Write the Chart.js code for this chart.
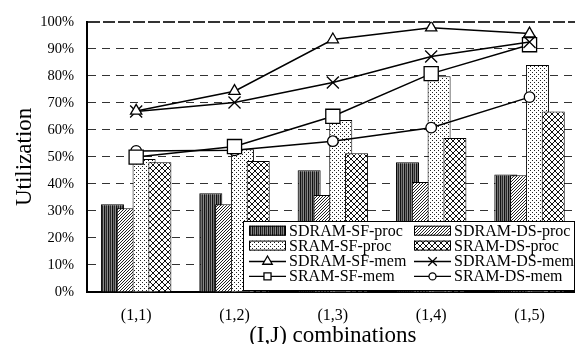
<!DOCTYPE html>
<html>
<head>
<meta charset="utf-8">
<script src="https://cdn.jsdelivr.net/npm/chart.js@4.4.1/dist/chart.umd.min.js"></script>
<style>
  html, body { margin: 0; padding: 0; overflow: hidden; background: #fff; }
  #wrap { width: 590px; height: 352px; }
</style>
</head>
<body>
<div id="wrap"><canvas id="chart" width="590" height="352"></canvas></div>
<script>
"use strict";

const CATEGORIES = ["(1,1)", "(1,2)", "(1,3)", "(1,4)", "(1,5)"];

// bars (%)
const SDRAM_SF_PROC = [32.5, 36.5, 45.0, 48.0, 43.5];
const SDRAM_DS_PROC = [31.0, 32.5, 35.9, 40.7, 43.2];
const SRAM_SF_PROC  = [49.2, 52.8, 63.6, 79.8, 84.0];
const SRAM_DS_PROC  = [48.0, 48.5, 51.3, 57.0, 66.8];

// lines (%)
const SDRAM_SF_MEM = [67.0, 74.3, 93.4, 97.8, 95.6];
const SDRAM_DS_MEM = [66.8, 70.1, 77.5, 87.1, 92.5];
const SRAM_SF_MEM  = [49.9, 53.8, 65.0, 80.8, 91.5];
const SRAM_DS_MEM  = [52.2, 52.4, 55.8, 60.8, 72.1];

const LEGEND_ROWS = [
  ["SDRAM-SF-proc", "SDRAM-DS-proc"],
  ["SRAM-SF-proc", "SRAM-DS-proc"],
  ["SDRAM-SF-mem", "SDRAM-DS-mem"],
  ["SRAM-SF-mem", "SRAM-DS-mem"],
];

const FONT = "'Liberation Serif', 'Times New Roman', serif";
const canvas = document.getElementById("chart");
const ctx2d = canvas.getContext("2d");

function makePattern(size, paint) {
  const c = document.createElement("canvas");
  c.width = size; c.height = size;
  const g = c.getContext("2d");
  g.fillStyle = "#fff";
  g.fillRect(0, 0, size, size);
  paint(g);
  return ctx2d.createPattern(c, "repeat");
}

const PAT_STRIPES = makePattern(4, g => {
  g.fillStyle = "#111"; g.fillRect(0, 0, 1, 4);
  g.fillStyle = "#707070"; g.fillRect(1, 0, 1, 4);
  g.fillStyle = "#2a2a2a"; g.fillRect(2, 0, 1, 4);
  g.fillStyle = "#8a8a8a"; g.fillRect(3, 0, 1, 4);
});
const PAT_HATCH = makePattern(3, g => {
  g.fillStyle = "#222";
  for (let i = 0; i < 3; i++) g.fillRect(i, 2 - i, 1, 1);
});
const PAT_DOTS = makePattern(4, g => {
  g.fillStyle = "#222";
  g.fillRect(0, 0, 1, 1);
  g.fillRect(2, 2, 1, 1);
});
const PAT_CROSS = makePattern(6, g => {
  g.strokeStyle = "#111";
  g.lineWidth = 1;
  g.beginPath();
  g.moveTo(0, 0); g.lineTo(6, 6);
  g.moveTo(6, 0); g.lineTo(0, 6);
  g.stroke();
});

function lineSet(label, data, style, radius) {
  return {
    type: "line", label, data,
    borderColor: "#000", borderWidth: 1.5, tension: 0,
    pointStyle: style, pointRadius: radius,
    pointBackgroundColor: "#fff", pointBorderColor: "#000", pointBorderWidth: 1.3,
  };
}
function barSet(label, data, pattern) {
  return {
    type: "bar", label, data,
    backgroundColor: pattern, borderColor: "#000", borderWidth: 1,
  };
}

// bars drawn left to right so the right one sits on top
const barsInOrder = {
  id: "barsInOrder",
  beforeDatasetsDraw(chart) {
    chart.data.datasets.forEach((ds, i) => {
      const meta = chart.getDatasetMeta(i);
      if (meta.type === "bar" && chart.isDatasetVisible(i)) meta.controller.draw();
    });
  },
  beforeDatasetDraw(chart, args) {
    if (args.meta.type === "bar") return false;
  },
};

const boxLegend = {
  id: "boxLegend",
  afterDatasetsDraw(chart) {
    const ctx = chart.ctx;
    const left = 243, top = 221, right = 574, bottom = 290;
    ctx.save();
    ctx.fillStyle = "#fff";
    ctx.fillRect(left, top, right - left, bottom - top);
    ctx.strokeStyle = "#000";
    ctx.lineWidth = 1;
    ctx.strokeRect(left + 0.5, top + 0.5, right - left, bottom - top);
    ctx.font = "16px " + FONT;
    ctx.textBaseline = "middle";
    LEGEND_ROWS.forEach((row, r) => {
      const y = 231.7 + r * 14.9;
      row.forEach((label, c) => {
        const ds = chart.data.datasets.find(d => d.label === label);
        const sx = c === 0 ? 249 : 414;
        if (ds.type === "bar") {
          ctx.fillStyle = ds.backgroundColor;
          ctx.fillRect(sx, y - 6, 37, 10);
          ctx.strokeStyle = "#000";
          ctx.lineWidth = 1;
          ctx.strokeRect(sx + 0.5, y - 5.5, 36, 9);
        } else {
          ctx.strokeStyle = "#000";
          ctx.lineWidth = 1.3;
          ctx.beginPath();
          ctx.moveTo(sx, y);
          ctx.lineTo(sx + 37, y);
          ctx.stroke();
          const rad = { triangle: 5.5, crossRot: 6, rect: 5, circle: 3.5 }[ds.pointStyle];
          ctx.fillStyle = "#fff";
          Chart.helpers.drawPoint(ctx, { pointStyle: ds.pointStyle, radius: rad, rotation: 0, borderWidth: 1.2 }, sx + 18.5, y);
        }
        ctx.fillStyle = "#000";
        ctx.fillText(label, sx + 40, y);
      });
    });
    ctx.restore();
  },
};

new Chart(canvas, {
  type: "bar",
  data: {
    labels: CATEGORIES,
    datasets: [
      lineSet("SDRAM-SF-mem", SDRAM_SF_MEM, "triangle", 6.5),
      lineSet("SDRAM-DS-mem", SDRAM_DS_MEM, "crossRot", 8.5),
      lineSet("SRAM-SF-mem", SRAM_SF_MEM, "rect", 10),
      lineSet("SRAM-DS-mem", SRAM_DS_MEM, "circle", 5.3),
      barSet("SDRAM-SF-proc", SDRAM_SF_PROC, PAT_STRIPES),
      barSet("SDRAM-DS-proc", SDRAM_DS_PROC, PAT_HATCH),
      barSet("SRAM-SF-proc", SRAM_SF_PROC, PAT_DOTS),
      barSet("SRAM-DS-proc", SRAM_DS_PROC, PAT_CROSS),
    ],
  },
  options: {
    responsive: false,
    animation: false,
    layout: { padding: { top: 17, right: 3, left: 0, bottom: 0 } },
    datasets: { bar: { categoryPercentage: 0.643, barPercentage: 1.456 } },
    plugins: { legend: { display: false }, tooltip: { enabled: false } },
    scales: {
      x: {
        grid: { display: false },
        border: { color: "#000", width: 2 },
        ticks: { color: "#000", padding: 6, font: { family: FONT, size: 16 } },
        title: {
          display: true, text: "(I,J) combinations", color: "#000",
          font: { family: FONT, size: 23 }, padding: { top: 0, bottom: 2 },
        },
        afterFit: s => { s.height = 60; },
      },
      y: {
        min: 0, max: 100,
        ticks: {
          stepSize: 10, color: "#000", padding: 13,
          font: { family: FONT, size: 14.5 },
          callback: v => v + "%",
        },
        grid: {
          color: "#333", drawTicks: false,
          lineWidth: c => (c.tick && c.tick.value === 100 ? 2 : 1),
        },
        border: {
          color: "#000", width: 2,
          dash: c => (c.tick && c.tick.value === 100 ? [12, 3] : [8, 6]),
        },
        title: {
          display: true, text: "Utilization", color: "#000",
          font: { family: FONT, size: 23 }, padding: { top: 11, bottom: 0 },
        },
        afterFit: s => { s.width = 87; },
      },
    },
  },
  plugins: [barsInOrder, boxLegend],
});
</script>
</body>
</html>
